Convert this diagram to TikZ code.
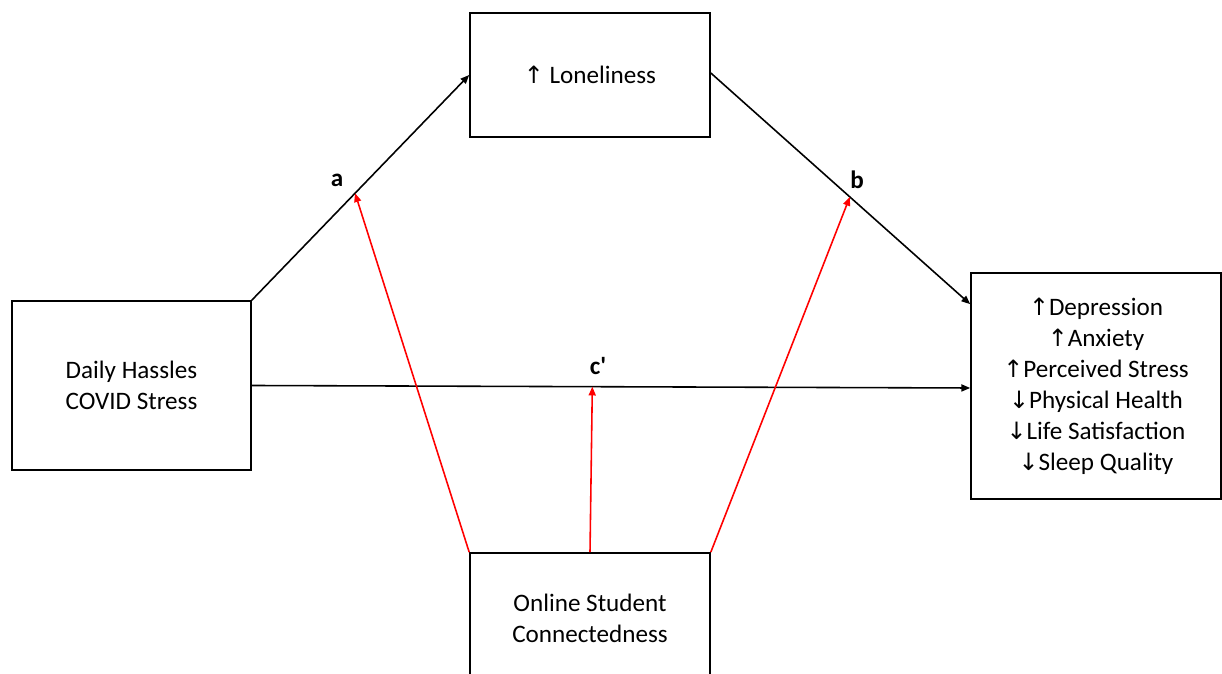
\documentclass[tikz,border=0pt]{standalone}
\usepackage{fontspec}
\setmainfont{Carlito}
\newfontfamily\arrowfont{DejaVu Sans}[Scale=0.95]
\usepackage{tikz}
\usetikzlibrary{arrows.meta, positioning, calc}
\definecolor{linkred}{HTML}{FF0000}

\newcommand{\up}{{\arrowfont ↑}}
\newcommand{\down}{{\arrowfont ↓}}

\tikzset{
  varbox/.style={draw=black, line width=0.9pt, align=center, inner sep=0pt,
    font=\fontsize{14.3}{17.6}\selectfont},
  path/.style={draw=black, line width=0.9pt, -{Triangle[length=5pt, width=4pt]}},
  modpath/.style={draw=linkred, line width=0.9pt, -{Triangle[length=5pt, width=4pt]}},
  pathlabel/.style={font=\fontsize{14.3}{16}\selectfont\bfseries}
}

\begin{document}
\begin{tikzpicture}
  \useasboundingbox (0,0) rectangle (24.44,13.48);
  % variables
  \node[varbox, minimum width=4.8cm, minimum height=2.48cm] (lone) at (11.8,11.98)
    {\up\ Loneliness};
  \node[varbox, minimum width=4.78cm, minimum height=3.38cm] (hassle) at (2.63,5.77)
    {Daily Hassles\\COVID Stress};
  \node[varbox, minimum width=5.0cm, minimum height=4.52cm] (outcome) at (21.92,5.76)
    {\up Depression\\\up Anxiety\\\up Perceived Stress\\
     \down Physical Health\\\down Life Satisfaction\\\down Sleep Quality};
  \node[varbox, minimum width=4.8cm, minimum height=2.6cm] (online) at (11.8,1.12)
    {Online Student\\Connectedness};

  % mediation paths
  \draw[path] (hassle.north east) -- coordinate[pos=0.475] (apt) (lone.west);
  \draw[path] ($(lone.east)+(0,0.04)$) -- coordinate[pos=0.536] (bpt) ($(outcome.north west)+(0,-0.64)$);
  \draw[path] (hassle.east) -- coordinate[pos=0.474] (cpt) ($(outcome.west)+(0,-0.04)$);
  \node[pathlabel] (alab) at (6.74,9.88) {a};
  \node[pathlabel] (blab) at (17.14,9.88) {b};
  \node[pathlabel] (clab) at (11.96,6.16) {c\textquotesingle};

  % moderation
  \draw[modpath] (online.north west) -- (apt);
  \draw[modpath] (online.north) -- (cpt);
  \draw[modpath] (online.north east) -- (bpt);
\end{tikzpicture}
\end{document}
